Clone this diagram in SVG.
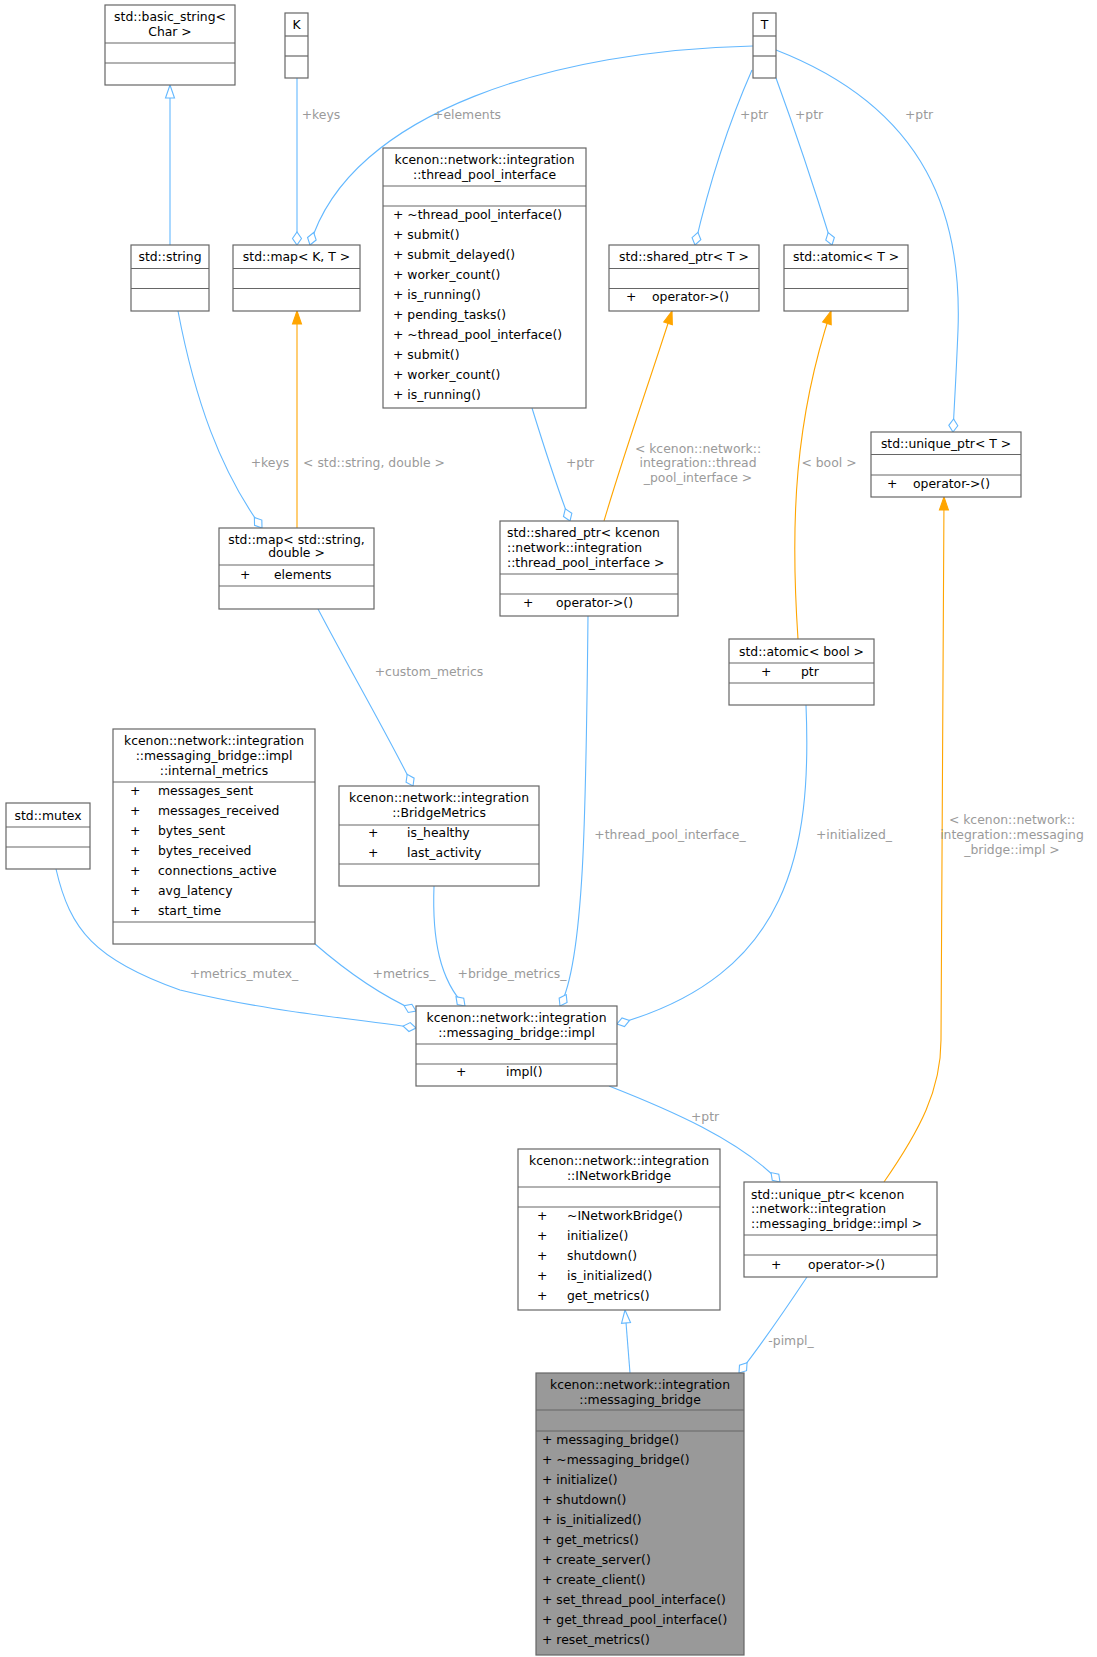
<svg xmlns="http://www.w3.org/2000/svg" width="1097" height="1657" viewBox="0 0 1097 1657">
<style>
text{font-family:"DejaVu Sans",sans-serif;font-size:12.4px;fill:#000}
.c{text-anchor:middle}
.l{fill:#9a9a9a;text-anchor:middle}
.b{fill:#fff;stroke:#666;stroke-width:1.2}
.g{fill:#999;stroke:#666;stroke-width:1.2}
.s{stroke:#666;stroke-width:1.2}
.e{fill:none;stroke:#63b8ff;stroke-width:1.1}
.o{fill:none;stroke:#ffa500;stroke-width:1.1}
</style>
<defs>
<marker id="dia" markerUnits="userSpaceOnUse" markerWidth="16" markerHeight="12" viewBox="-14 -6 16 12" refX="0" refY="0" orient="auto"><path d="M0,0 L-6.5,-4.5 L-13,0 L-6.5,4.5 Z" fill="#fff" stroke="#63b8ff" stroke-width="1.1"/></marker>
<marker id="inh" markerUnits="userSpaceOnUse" markerWidth="16" markerHeight="12" viewBox="-14 -6 16 12" refX="0" refY="0" orient="auto"><path d="M0,0 L-13,-4.5 L-13,4.5 Z" fill="#fff" stroke="#63b8ff" stroke-width="1.1"/></marker>
<marker id="tpl" markerUnits="userSpaceOnUse" markerWidth="16" markerHeight="12" viewBox="-14 -6 16 12" refX="0" refY="0" orient="auto"><path d="M0,0 L-13,-4.5 L-13,4.5 Z" fill="#ffa500" stroke="#ffa500" stroke-width="1.1"/></marker>
</defs>
<g id="connectors">
<path class="e" d="M170,245 L170,85" marker-end="url(#inh)"/>
<path class="e" d="M297,78 L297,245" marker-end="url(#dia)"/>
<path class="e" d="M753,46 C560,50 350,110 310,245" marker-end="url(#dia)"/>
<path class="e" d="M752,70 C730,120 710,180 695,245" marker-end="url(#dia)"/>
<path class="e" d="M776,78 C795,130 815,190 832,245" marker-end="url(#dia)"/>
<path class="e" d="M776,50 C930,110 962,220 958,330 C956,380 954,410 953,432" marker-end="url(#dia)"/>
<path class="e" d="M178,311 C195,400 220,470 262,528" marker-end="url(#dia)"/>
<path class="o" d="M297,528 L297,311" marker-end="url(#tpl)"/>
<path class="e" d="M532,408 C545,450 558,490 570,521" marker-end="url(#dia)"/>
<path class="o" d="M604,521 C625,450 650,380 672,311" marker-end="url(#tpl)"/>
<path class="o" d="M798,639 C790,520 795,420 831,311" marker-end="url(#tpl)"/>
<path class="o" d="M884,1182 C920,1130 941,1090 941,1040 L944,497" marker-end="url(#tpl)"/>
<path class="e" d="M318,609 C350,670 385,730 413,786" marker-end="url(#dia)"/>
<path class="e" d="M56,869 C70,930 95,960 180,990 C270,1012 350,1018 416,1028" marker-end="url(#dia)"/>
<path class="e" d="M315,944 C345,970 380,995 416,1011" marker-end="url(#dia)"/>
<path class="e" d="M434,886 C432,940 440,980 465,1006" marker-end="url(#dia)"/>
<path class="e" d="M588,616 C586,800 585,960 560,1006" marker-end="url(#dia)"/>
<path class="e" d="M806,705 C812,850 790,975 617,1024" marker-end="url(#dia)"/>
<path class="e" d="M609,1086 C670,1110 740,1140 780,1182" marker-end="url(#dia)"/>
<path class="e" d="M807,1277 C785,1310 765,1340 739,1373" marker-end="url(#dia)"/>
<path class="e" d="M630,1373 L625,1310" marker-end="url(#inh)"/>
<text class="l" x="321" y="119">+keys</text>
<text class="l" x="467" y="119">+elements</text>
<text class="l" x="754" y="119">+ptr</text>
<text class="l" x="809" y="119">+ptr</text>
<text class="l" x="919" y="119">+ptr</text>
<text class="l" x="270" y="467">+keys</text>
<text class="l" x="374" y="467">&lt; std::string, double &gt;</text>
<text class="l" x="580" y="467">+ptr</text>
<text class="l" x="698" y="453">&lt; kcenon::network::</text>
<text class="l" x="698" y="467">integration::thread</text>
<text class="l" x="698" y="482">_pool_interface &gt;</text>
<text class="l" x="829" y="467">&lt; bool &gt;</text>
<text class="l" x="429" y="676">+custom_metrics</text>
<text class="l" x="670" y="839">+thread_pool_interface_</text>
<text class="l" x="854" y="839">+initialized_</text>
<text class="l" x="1012" y="824">&lt; kcenon::network::</text>
<text class="l" x="1012" y="839">integration::messaging</text>
<text class="l" x="1012" y="854">_bridge::impl &gt;</text>
<text class="l" x="244" y="978">+metrics_mutex_</text>
<text class="l" x="404" y="978">+metrics_</text>
<text class="l" x="512" y="978">+bridge_metrics_</text>
<text class="l" x="705" y="1121">+ptr</text>
<text class="l" x="791" y="1345">-pimpl_</text>
</g>
<g id="basic_string">
<rect class="b" x="105" y="5" width="130" height="80"/>
<line class="s" x1="105" y1="43" x2="235" y2="43"/><line class="s" x1="105" y1="63" x2="235" y2="63"/>
<text class="c" x="170" y="21">std::basic_string&lt;</text><text class="c" x="170" y="36">Char &gt;</text>
</g>
<g id="K">
<rect class="b" x="285" y="13" width="23" height="65"/>
<line class="s" x1="285" y1="36" x2="308" y2="36"/><line class="s" x1="285" y1="56" x2="308" y2="56"/>
<text class="c" x="296.5" y="29">K</text>
</g>
<g id="T">
<rect class="b" x="753" y="13" width="23" height="65"/>
<line class="s" x1="753" y1="36" x2="776" y2="36"/><line class="s" x1="753" y1="56" x2="776" y2="56"/>
<text class="c" x="764.5" y="29">T</text>
</g>
<g id="std_string">
<rect class="b" x="131" y="245" width="78" height="66"/>
<line class="s" x1="131" y1="268.5" x2="209" y2="268.5"/><line class="s" x1="131" y1="288.5" x2="209" y2="288.5"/>
<text class="c" x="170" y="261">std::string</text>
</g>
<g id="map_KT">
<rect class="b" x="233" y="245" width="127" height="66"/>
<line class="s" x1="233" y1="268.5" x2="360" y2="268.5"/><line class="s" x1="233" y1="288.5" x2="360" y2="288.5"/>
<text class="c" x="296.5" y="261">std::map&lt; K, T &gt;</text>
</g>
<g id="thread_pool_interface">
<rect class="b" x="383" y="148" width="203" height="260"/>
<line class="s" x1="383" y1="186" x2="586" y2="186"/><line class="s" x1="383" y1="206" x2="586" y2="206"/>
<text class="c" x="484.5" y="164">kcenon::network::integration</text><text class="c" x="484.5" y="179">::thread_pool_interface</text>
<text x="393" y="219">+  ~thread_pool_interface()</text>
<text x="393" y="239">+  submit()</text>
<text x="393" y="259">+  submit_delayed()</text>
<text x="393" y="279">+  worker_count()</text>
<text x="393" y="299">+  is_running()</text>
<text x="393" y="319">+  pending_tasks()</text>
<text x="393" y="339">+  ~thread_pool_interface()</text>
<text x="393" y="359">+  submit()</text>
<text x="393" y="379">+  worker_count()</text>
<text x="393" y="399">+  is_running()</text>
</g>
<g id="shared_ptr_T">
<rect class="b" x="609" y="245" width="150" height="66"/>
<line class="s" x1="609" y1="268.5" x2="759" y2="268.5"/><line class="s" x1="609" y1="288.5" x2="759" y2="288.5"/>
<text class="c" x="684" y="261">std::shared_ptr&lt; T &gt;</text>
<text x="626" y="301">+</text><text x="652" y="301">operator-&gt;()</text>
</g>
<g id="atomic_T">
<rect class="b" x="784" y="245" width="124" height="66"/>
<line class="s" x1="784" y1="268.5" x2="908" y2="268.5"/><line class="s" x1="784" y1="288.5" x2="908" y2="288.5"/>
<text class="c" x="846" y="261">std::atomic&lt; T &gt;</text>
</g>
<g id="unique_ptr_T">
<rect class="b" x="871" y="432" width="150" height="65"/>
<line class="s" x1="871" y1="454.5" x2="1021" y2="454.5"/><line class="s" x1="871" y1="475" x2="1021" y2="475"/>
<text class="c" x="946" y="448">std::unique_ptr&lt; T &gt;</text>
<text x="887" y="488">+</text><text x="913" y="488">operator-&gt;()</text>
</g>
<g id="map_string_double">
<rect class="b" x="219" y="528" width="155" height="81"/>
<line class="s" x1="219" y1="565" x2="374" y2="565"/><line class="s" x1="219" y1="586" x2="374" y2="586"/>
<text class="c" x="296.5" y="544">std::map&lt; std::string,</text><text class="c" x="296.5" y="557">double &gt;</text>
<text x="240" y="579">+</text><text x="274" y="579">elements</text>
</g>
<g id="shared_ptr_tpi">
<rect class="b" x="500" y="521" width="178" height="95"/>
<line class="s" x1="500" y1="574" x2="678" y2="574"/><line class="s" x1="500" y1="594" x2="678" y2="594"/>
<text x="507" y="537">std::shared_ptr&lt; kcenon</text><text x="507" y="552">::network::integration</text><text x="507" y="567">::thread_pool_interface &gt;</text>
<text x="523" y="607">+</text><text x="556" y="607">operator-&gt;()</text>
</g>
<g id="atomic_bool">
<rect class="b" x="729" y="639" width="145" height="66"/>
<line class="s" x1="729" y1="663" x2="874" y2="663"/><line class="s" x1="729" y1="683" x2="874" y2="683"/>
<text class="c" x="801.5" y="656">std::atomic&lt; bool &gt;</text>
<text x="761" y="676">+</text><text x="801" y="676">ptr</text>
</g>
<g id="internal_metrics">
<rect class="b" x="113" y="729" width="202" height="215"/>
<line class="s" x1="113" y1="782" x2="315" y2="782"/><line class="s" x1="113" y1="922" x2="315" y2="922"/>
<text class="c" x="214" y="745">kcenon::network::integration</text><text class="c" x="214" y="760">::messaging_bridge::impl</text><text class="c" x="214" y="775">::internal_metrics</text>
<text x="130" y="795">+</text><text x="158" y="795">messages_sent</text>
<text x="130" y="815">+</text><text x="158" y="815">messages_received</text>
<text x="130" y="835">+</text><text x="158" y="835">bytes_sent</text>
<text x="130" y="855">+</text><text x="158" y="855">bytes_received</text>
<text x="130" y="875">+</text><text x="158" y="875">connections_active</text>
<text x="130" y="895">+</text><text x="158" y="895">avg_latency</text>
<text x="130" y="915">+</text><text x="158" y="915">start_time</text>
</g>
<g id="mutex">
<rect class="b" x="6" y="803" width="84" height="66"/>
<line class="s" x1="6" y1="827" x2="90" y2="827"/><line class="s" x1="6" y1="847" x2="90" y2="847"/>
<text class="c" x="48" y="820">std::mutex</text>
</g>
<g id="BridgeMetrics">
<rect class="b" x="339" y="786" width="200" height="100"/>
<line class="s" x1="339" y1="825" x2="539" y2="825"/><line class="s" x1="339" y1="864" x2="539" y2="864"/>
<text class="c" x="439" y="802">kcenon::network::integration</text><text class="c" x="439" y="817">::BridgeMetrics</text>
<text x="368" y="837">+</text><text x="407" y="837">is_healthy</text>
<text x="368" y="857">+</text><text x="407" y="857">last_activity</text>
</g>
<g id="impl">
<rect class="b" x="416" y="1006" width="201" height="80"/>
<line class="s" x1="416" y1="1044" x2="617" y2="1044"/><line class="s" x1="416" y1="1064" x2="617" y2="1064"/>
<text class="c" x="516.5" y="1022">kcenon::network::integration</text><text class="c" x="516.5" y="1037">::messaging_bridge::impl</text>
<text x="456" y="1076">+</text><text x="506" y="1076">impl()</text>
</g>
<g id="INetworkBridge">
<rect class="b" x="518" y="1149" width="202" height="161"/>
<line class="s" x1="518" y1="1187" x2="720" y2="1187"/><line class="s" x1="518" y1="1207" x2="720" y2="1207"/>
<text class="c" x="619" y="1165">kcenon::network::integration</text><text class="c" x="619" y="1180">::INetworkBridge</text>
<text x="537" y="1220">+</text><text x="567" y="1220">~INetworkBridge()</text>
<text x="537" y="1240">+</text><text x="567" y="1240">initialize()</text>
<text x="537" y="1260">+</text><text x="567" y="1260">shutdown()</text>
<text x="537" y="1280">+</text><text x="567" y="1280">is_initialized()</text>
<text x="537" y="1300">+</text><text x="567" y="1300">get_metrics()</text>
</g>
<g id="unique_ptr_impl">
<rect class="b" x="744" y="1182" width="193" height="95"/>
<line class="s" x1="744" y1="1235" x2="937" y2="1235"/><line class="s" x1="744" y1="1255" x2="937" y2="1255"/>
<text x="751" y="1199">std::unique_ptr&lt; kcenon</text><text x="751" y="1213">::network::integration</text><text x="751" y="1228">::messaging_bridge::impl &gt;</text>
<text x="771" y="1269">+</text><text x="808" y="1269">operator-&gt;()</text>
</g>
<g id="messaging_bridge">
<rect class="g" x="536" y="1373" width="208" height="282"/>
<line class="s" x1="536" y1="1410" x2="744" y2="1410"/><line class="s" x1="536" y1="1431" x2="744" y2="1431"/>
<text class="c" x="640" y="1389">kcenon::network::integration</text><text class="c" x="640" y="1404">::messaging_bridge</text>
<text x="542" y="1444">+ messaging_bridge()</text>
<text x="542" y="1464">+ ~messaging_bridge()</text>
<text x="542" y="1484">+ initialize()</text>
<text x="542" y="1504">+ shutdown()</text>
<text x="542" y="1524">+ is_initialized()</text>
<text x="542" y="1544">+ get_metrics()</text>
<text x="542" y="1564">+ create_server()</text>
<text x="542" y="1584">+ create_client()</text>
<text x="542" y="1604">+ set_thread_pool_interface()</text>
<text x="542" y="1624">+ get_thread_pool_interface()</text>
<text x="542" y="1644">+ reset_metrics()</text>
</g>
</svg>
